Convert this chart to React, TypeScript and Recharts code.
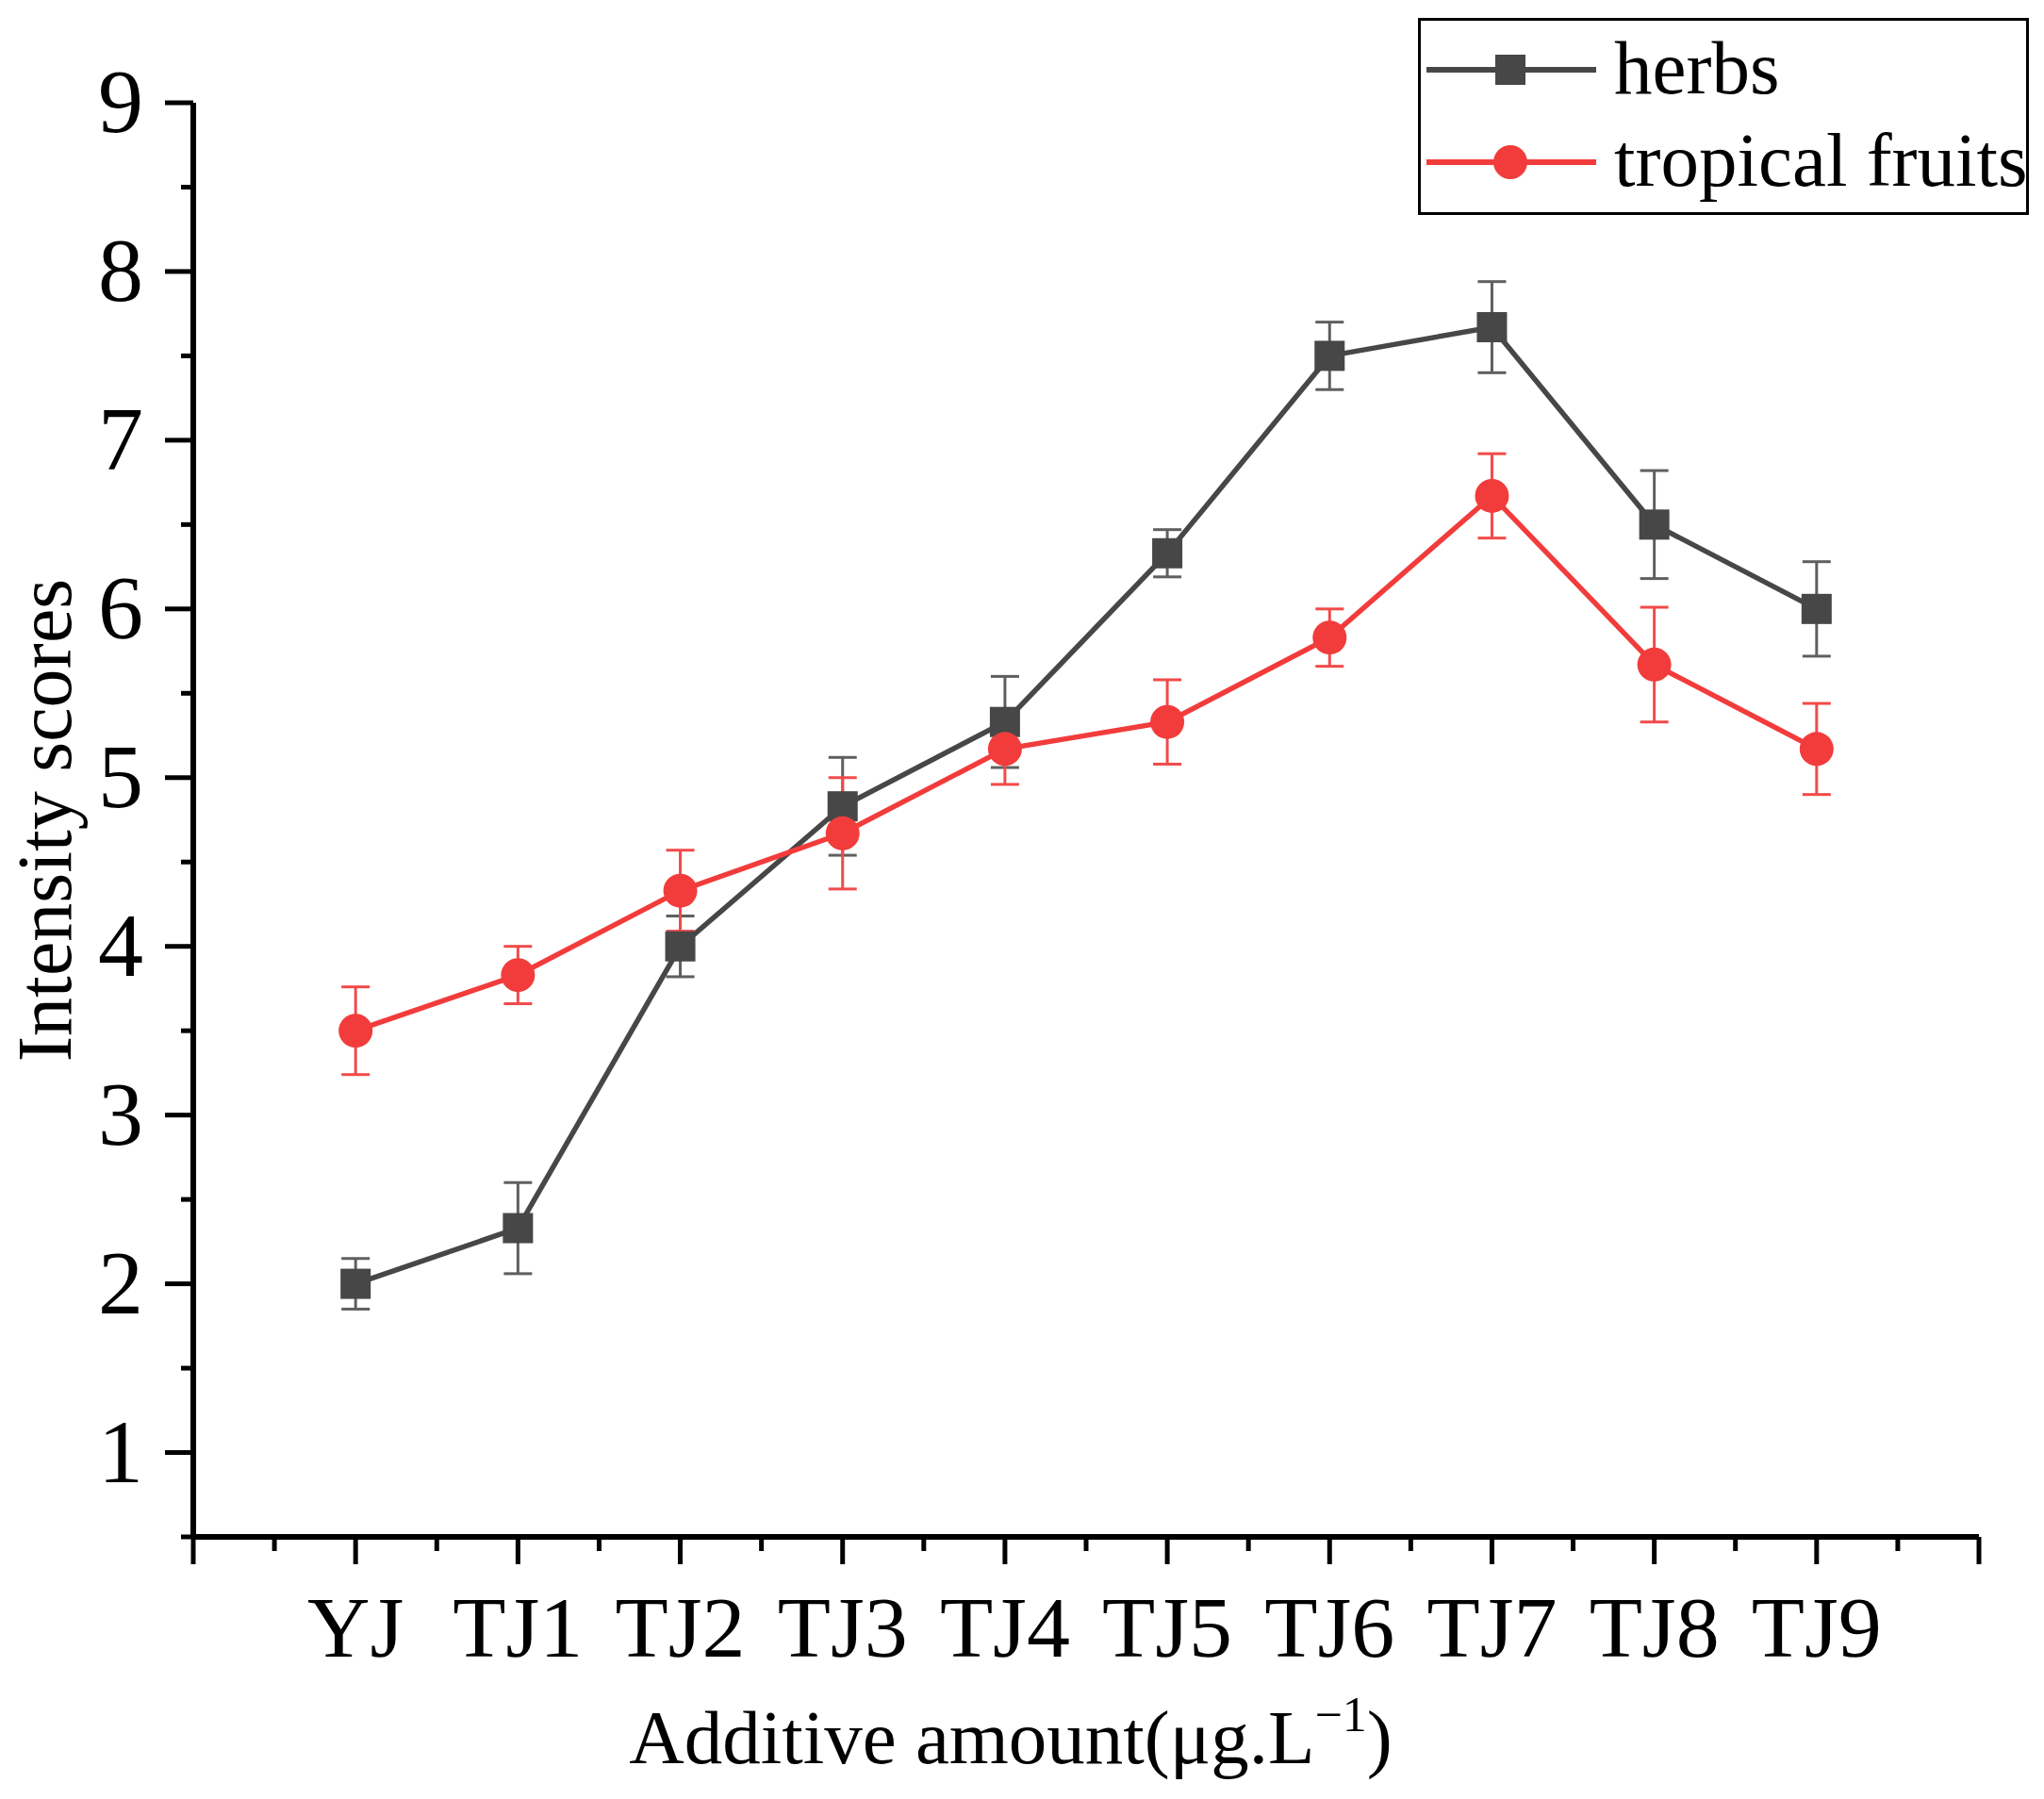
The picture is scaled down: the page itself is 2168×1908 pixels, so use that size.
import React from "react";
import { LineChart, Line, XAxis, YAxis, ErrorBar, Legend, Label } from "recharts";

const categories = ["YJ", "TJ1", "TJ2", "TJ3", "TJ4", "TJ5", "TJ6", "TJ7", "TJ8", "TJ9"];
const herbs = [2.0, 2.33, 4.0, 4.83, 5.33, 6.33, 7.5, 7.67, 6.5, 6.0];
const herbsErr = [0.15, 0.27, 0.18, 0.29, 0.27, 0.14, 0.2, 0.27, 0.32, 0.28];
const fruits = [3.5, 3.83, 4.33, 4.67, 5.17, 5.33, 5.83, 6.67, 5.67, 5.17];
const fruitsErr = [0.26, 0.17, 0.24, 0.33, 0.21, 0.25, 0.17, 0.25, 0.34, 0.27];

const yTicks = [0.5, 1, 1.5, 2, 2.5, 3, 3.5, 4, 4.5, 5, 5.5, 6, 6.5, 7, 7.5, 8, 8.5, 9];
const xTicks = [-1, -0.5, 0, 0.5, 1, 1.5, 2, 2.5, 3, 3.5, 4, 4.5, 5, 5.5, 6, 6.5, 7, 7.5, 8, 8.5, 9, 9.5, 10];

const HERB = "#474747";
const HERB_ERR = "#5f5f5f";
const RED = "#f23c3c";
const RED_ERR = "#f24a4a";
const FONT = '"Liberation Serif", "Times New Roman", serif';

const data = categories.map((c, i) => ({
  x: i,
  name: c,
  herbs: herbs[i],
  herbsErr: herbsErr[i],
  fruits: fruits[i],
  fruitsErr: fruitsErr[i],
}));

function SquareDot(props: any) {
  const { cx, cy } = props;
  if (cx == null || cy == null) return null;
  return <rect x={cx - 16} y={cy - 16} width={32} height={32} fill={HERB} />;
}

function CircleDot(props: any) {
  const { cx, cy } = props;
  if (cx == null || cy == null) return null;
  return <circle cx={cx} cy={cy} r={18} fill={RED} />;
}

function YTick(props: any) {
  const { x, y, payload } = props;
  const v = payload.value;
  const major = Number.isInteger(v);
  return (
    <g>
      <line x1={x} x2={x - (major ? 30 : 13)} y1={y} y2={y} stroke="#000" strokeWidth={5} />
      {major && (
        <text x={x - 53} y={y + 31} textAnchor="end" fontSize={96} fontFamily={FONT} fill="#000">
          {v}
        </text>
      )}
    </g>
  );
}

function XTick(props: any) {
  const { x, y, payload } = props;
  const v = payload.value;
  const major = Number.isInteger(v);
  const label = major && v >= 0 && v < categories.length ? categories[v] : "";
  return (
    <g>
      <line x1={x} x2={x} y1={y} y2={y + (major ? 29 : 15)} stroke="#000" strokeWidth={5} />
      {label && (
        <text x={x} y={y + 127} textAnchor="middle" fontSize={92} fontFamily={FONT} fill="#000">
          {label}
        </text>
      )}
    </g>
  );
}

function renderLegend(props: any) {
  const items = props.payload || [];
  return (
    <svg width={648} height={210} style={{ display: "block" }}>
      <rect x={1.5} y={1.5} width={645} height={206} fill="#fff" stroke="#000" strokeWidth={3} />
      {items.map((it: any, i: number) => {
        const cy = 55 + i * 98;
        const isHerb = it.dataKey === "herbs";
        return (
          <g key={it.value}>
            <line x1={9} x2={189} y1={cy} y2={cy} stroke={it.color} strokeWidth={6} />
            {isHerb ? (
              <rect x={98 - 16} y={cy - 16} width={32} height={32} fill={HERB} />
            ) : (
              <circle cx={98} cy={cy} r={18} fill={RED} />
            )}
            <text x={208} y={cy + 25} fontSize={81} fontFamily={FONT} fill="#000">
              {it.value}
            </text>
          </g>
        );
      })}
    </svg>
  );
}

export default function App() {
  return (
    <div style={{ position: "absolute", left: 0, top: 0, width: 2168, height: 1908, background: "#fff" }}>
      <LineChart width={2168} height={1908} data={data} margin={{ top: 109, right: 69, bottom: 128, left: 55 }}>
        <XAxis
          dataKey="x"
          type="number"
          domain={[-1, 10]}
          ticks={xTicks}
          interval={0}
          tick={<XTick />}
          tickLine={false}
          tickSize={0}
          tickMargin={0}
          axisLine={{ stroke: "#000", strokeWidth: 6 }}
          height={150}
        >
          <Label
            content={() => (
              <text x={1072} y={1870} textAnchor="middle" fontSize={81} fontFamily={FONT} fill="#000">
                Additive amount(μg.L
                <tspan fontSize={52} dy={-34}>−1</tspan>
                <tspan dy={34}>)</tspan>
              </text>
            )}
          />
        </XAxis>
        <YAxis
          type="number"
          domain={[0.5, 9]}
          ticks={yTicks}
          interval={0}
          tick={<YTick />}
          tickLine={false}
          tickSize={0}
          tickMargin={0}
          axisLine={{ stroke: "#000", strokeWidth: 6 }}
          width={150}
        >
          <Label
            content={() => (
              <text
                x={75}
                y={870}
                transform="rotate(-90, 75, 870)"
                textAnchor="middle"
                fontSize={82}
                fontFamily={FONT}
                fill="#000"
              >
                Intensity scores
              </text>
            )}
          />
        </YAxis>
        <Legend
          content={renderLegend}
          layout="vertical"
          align="center"
          verticalAlign="middle"
          wrapperStyle={{ left: 1504, top: 19, width: 648, height: 210 }}
        />
        <Line
          type="linear"
          dataKey="herbs"
          name="herbs"
          stroke={HERB}
          strokeWidth={5.5}
          dot={<SquareDot />}
          activeDot={false}
          isAnimationActive={false}
        >
          <ErrorBar dataKey="herbsErr" width={15} stroke={HERB_ERR} strokeWidth={3} direction="y" isAnimationActive={false} />
        </Line>
        <Line
          type="linear"
          dataKey="fruits"
          name="tropical fruits"
          stroke={RED}
          strokeWidth={5.5}
          dot={<CircleDot />}
          activeDot={false}
          isAnimationActive={false}
        >
          <ErrorBar dataKey="fruitsErr" width={15} stroke={RED_ERR} strokeWidth={3} direction="y" isAnimationActive={false} />
        </Line>
      </LineChart>
    </div>
  );
}
